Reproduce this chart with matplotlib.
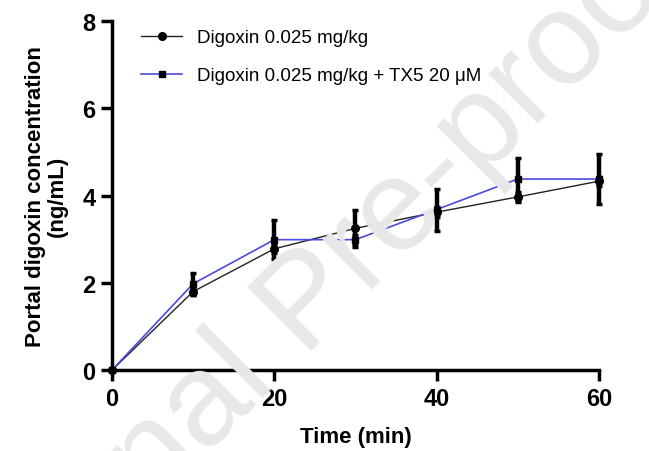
import numpy as np
import matplotlib
matplotlib.use("Agg")
from matplotlib import pyplot as plt

plt.rcParams['font.family'] = ['Liberation Sans', 'DejaVu Sans']

time = [0, 10, 20, 30, 40, 50, 60]

# Digoxin 0.025 mg/kg
dig_mean = [0.0, 1.80, 2.78, 3.25, 3.62, 3.97, 4.33]
dig_err = [0.0, 0.08, 0.10, 0.42, 0.12, 0.12, 0.10]

# Digoxin 0.025 mg/kg + TX5 20 uM
tx5_mean = [0.0, 1.98, 2.99, 2.99, 3.68, 4.38, 4.38]
tx5_err = [0.0, 0.25, 0.45, 0.10, 0.48, 0.48, 0.58]

labels = ["Digoxin 0.025 mg/kg", "Digoxin 0.025 mg/kg + TX5 20 \u03bcM"]

fig = plt.figure(figsize=(6.49, 4.52), dpi=100)
ax = fig.add_axes([0.1726, 0.179, 0.750, 0.772])

# error bars first, lines + markers on top
for m, e in [(dig_mean, dig_err), (tx5_mean, tx5_err)]:
    ax.errorbar(time, m, yerr=e, fmt='none', ecolor='black',
                elinewidth=3.2, capsize=2.5, capthick=2.5,
                clip_on=False, zorder=2)

ax.plot(time, dig_mean, color='#222222', lw=1.0, marker='o', ms=5.5,
        mfc='black', mec='black', label=labels[0], clip_on=False, zorder=3)
ax.plot(time, tx5_mean, color='#4a4ae0', lw=1.2, marker='s', ms=5,
        mfc='black', mec='black', label=labels[1], clip_on=False, zorder=4)

ax.set_xlim(0, 60)
ax.set_ylim(0, 8)
ax.set_xticks([0, 20, 40, 60])
ax.set_yticks([0, 2, 4, 6, 8])
for s in ['top', 'right']:
    ax.spines[s].set_visible(False)
for s in ['left', 'bottom']:
    ax.spines[s].set_linewidth(2.5)
ax.tick_params(width=2.5, length=8, labelsize=17, pad=4)
for t in ax.get_xticklabels() + ax.get_yticklabels():
    t.set_fontweight('bold')

ax.set_xlabel("Time (min)", fontsize=16, fontweight='bold', labelpad=12)
ax.set_ylabel("Portal digoxin concentration\n(ng/mL)", fontsize=16,
              fontweight='bold', labelpad=10, linespacing=1.1)

ax.legend(loc='upper left', bbox_to_anchor=(0.025, 1.025), frameon=False,
          fontsize=13.5, handlelength=2.2, labelspacing=1.1,
          handletextpad=0.8)

# watermark of the source document
fig.text(0.475, 0.325, "Journal Pre-proof", fontsize=95, color='#e8e8e8',
         rotation=45, ha='center', va='center', zorder=10)

fig.savefig("out.png", dpi=100)
